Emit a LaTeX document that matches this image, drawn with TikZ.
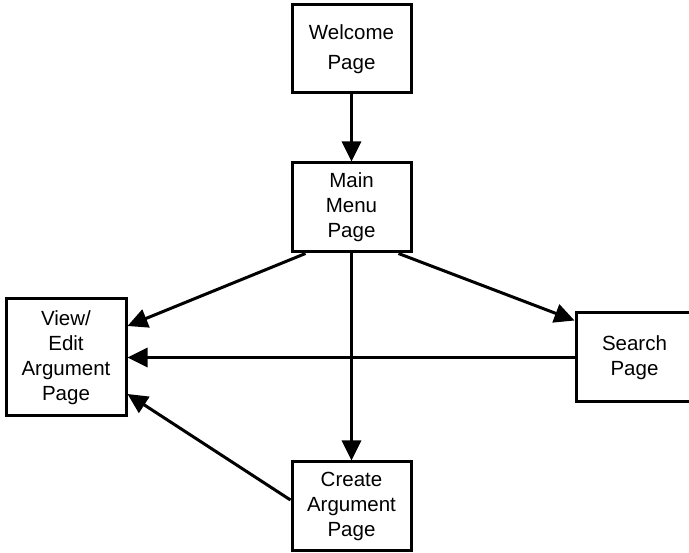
\documentclass[tikz,border=0pt]{standalone}
\usepackage{fontspec}
\setmainfont{Liberation Sans}
\usetikzlibrary{shapes,arrows,arrows.meta}
\tikzstyle{line} = [draw, line width=3pt, -{Triangle[length=20pt,width=19pt]}]
\tikzstyle{page} = [draw, line width=3pt, rectangle, align=center, inner sep=0pt,
   font=\fontsize{20.5}{25}\selectfont]

\begin{document}
\begin{tikzpicture}[x=1pt,y=-1pt]

\useasboundingbox (0,0) rectangle (689,553);

% pages
\node[page, minimum width=119pt, minimum height=88pt] (welcome) at (351.5,49) {Welcome\\[5pt]Page};
\node[page, minimum width=119pt, minimum height=89pt] (menu) at (351.5,207.5) {Main\\Menu\\Page};
\node[page, minimum width=120pt, minimum height=117pt] (view) at (66,357.5) {View/\\Edit\\Argument\\Page};
\node[page, minimum width=117pt, minimum height=89pt] (search) at (634.5,357.5) {Search\\Page};
\node[page, minimum width=119pt, minimum height=89pt] (create) at (351.5,506.5) {Create\\Argument\\Page};

% links
\draw[line] (welcome) -- (menu);
\draw[line] (menu) -- (create);
\draw[line] ([xshift=15pt]menu.south west) -- ([yshift=31.5pt]view.east);
\draw[line] ([xshift=-14pt]menu.south east) -- ([yshift=-9pt]search.north west);
\draw[line] (search.west) -- (view.east);
\draw[line] ([yshift=6.5pt]create.west) -- ([yshift=-36.5pt]view.east);
\end{tikzpicture}
\end{document}
